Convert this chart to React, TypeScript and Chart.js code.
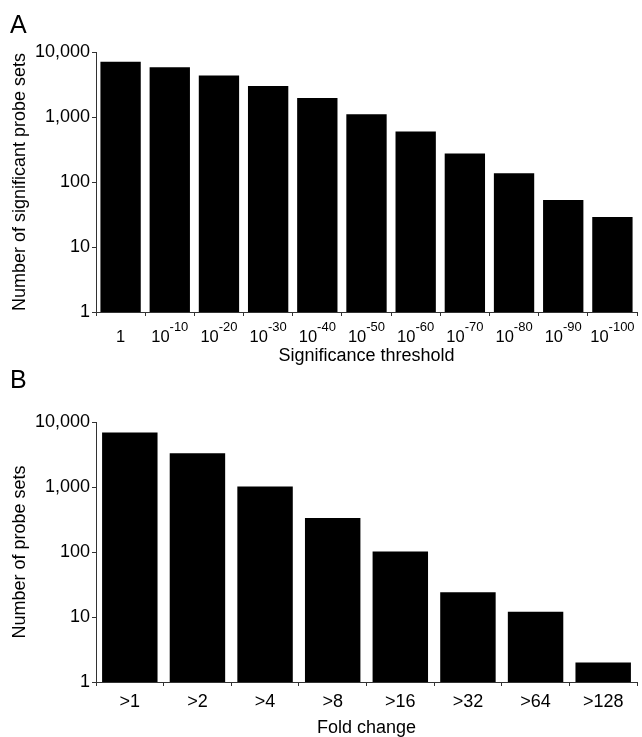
import React, { useEffect, useRef } from 'react';
import { Chart, registerables } from 'chart.js';

Chart.register(...registerables);

const FONT = '"Liberation Sans", Arial, Helvetica, sans-serif';
Chart.defaults.font.family = FONT;

// Panel A: significance threshold
const thresholdLabels = ['1', '10^-10', '10^-20', '10^-30', '10^-40', '10^-50', '10^-60', '10^-70', '10^-80', '10^-90', '10^-100'];
const thresholdCounts = [7080, 5850, 4350, 3010, 1960, 1107, 596, 275, 136, 53, 29];

// Panel B: fold change
const foldLabels = ['>1', '>2', '>4', '>8', '>16', '>32', '>64', '>128'];
const foldCounts = [6920, 3310, 1020, 334, 102, 24, 12, 2];

// Shared y axis ticks
const yTickValues = [1, 10, 100, 1000, 10000];

const panelPlugin = {
  id: 'panelDecor',
  afterDraw(chart: any, _args: any, opts: any) {
    const ctx = chart.ctx as CanvasRenderingContext2D;
    ctx.save();
    ctx.fillStyle = '#000';
    ctx.textBaseline = 'alphabetic';
    ctx.textAlign = 'left';
    if (opts.letter) {
      ctx.font = `25px ${FONT}`;
      ctx.fillText(opts.letter, 10, opts.letterY);
    }
    if (opts.superscript) {
      const xs = chart.scales.x;
      const baseY = xs.top + 29.7;
      (chart.data.labels as string[]).forEach((lab, i) => {
        const cx = xs.getPixelForValue(i);
        const [base, exp] = String(lab).split('^');
        ctx.font = `16.5px ${FONT}`;
        const w1 = ctx.measureText(base).width;
        let w2 = 0;
        if (exp) {
          ctx.font = `13px ${FONT}`;
          w2 = ctx.measureText(exp).width;
        }
        const x0 = cx - (w1 + w2) / 2;
        ctx.font = `16.5px ${FONT}`;
        ctx.fillText(base, x0, baseY);
        if (exp) {
          ctx.font = `13px ${FONT}`;
          ctx.fillText(exp, x0 + w1, baseY - 11);
        }
      });
    }
    ctx.restore();
  },
};

type PanelProps = {
  labels: string[];
  values: number[];
  letter: string;
  letterY: number;
  xTitle: string;
  yTitle: string;
  height: number;
  xAxisHeight: number;
  xTitlePad: number;
  superscript: boolean;
  top: number;
};

function BarPanel(p: PanelProps) {
  const ref = useRef<HTMLCanvasElement>(null);
  useEffect(() => {
    const chart = new Chart(ref.current as HTMLCanvasElement, {
      type: 'bar',
      data: {
        labels: p.labels,
        datasets: [
          {
            data: p.values,
            backgroundColor: '#000',
            borderWidth: 0,
            barPercentage: 0.82,
            categoryPercentage: 1,
          },
        ],
      },
      options: {
        responsive: false,
        animation: false,
        devicePixelRatio: 1,
        layout: { padding: { top: 52, right: 5, left: 0, bottom: 0 } },
        plugins: {
          legend: { display: false },
          tooltip: { enabled: false },
          panelDecor: { letter: p.letter, letterY: p.letterY, superscript: p.superscript },
        } as any,
        scales: {
          x: {
            type: 'category',
            offset: true,
            grid: { offset: true, drawOnChartArea: false, drawTicks: true, tickLength: 4, color: '#333', lineWidth: 1 },
            border: { display: true, color: '#333', width: 1 },
            ticks: {
              display: !p.superscript,
              font: { size: 18, family: FONT },
              color: '#000',
              padding: 5,
              maxRotation: 0,
              autoSkip: false,
            },
            title: {
              display: true,
              text: p.xTitle,
              font: { size: 18, family: FONT },
              color: '#000',
              padding: { top: 0, bottom: p.xTitlePad },
            },
            afterFit: (s: any) => {
              s.height = p.xAxisHeight;
            },
          },
          y: {
            type: 'logarithmic',
            min: 1,
            max: 10000,
            afterBuildTicks: (s: any) => {
              s.ticks = yTickValues.map((v) => ({ value: v }));
            },
            ticks: {
              callback: (v: any) => Number(v).toLocaleString('en-US'),
              font: { size: 18, family: FONT },
              color: '#000',
              padding: 2,
            },
            grid: { drawOnChartArea: false, drawTicks: true, tickLength: 4, color: '#333', lineWidth: 1 },
            border: { display: true, color: '#333', width: 1 },
            title: {
              display: true,
              text: p.yTitle,
              font: { size: 18, family: FONT },
              color: '#000',
              padding: { top: 9, bottom: 0 },
            },
            afterFit: (s: any) => {
              s.width = 96;
            },
          },
        },
      } as any,
      plugins: [panelPlugin as any],
    });
    return () => chart.destroy();
  }, []);
  return (
    <canvas
      ref={ref}
      width={642}
      height={p.height}
      style={{ position: 'absolute', left: 0, top: p.top, width: 642, height: p.height, display: 'block' }}
    />
  );
}

export default function App() {
  return (
    <div style={{ position: 'absolute', left: 0, top: 0, width: 642, height: 737, background: '#fff', overflow: 'hidden' }}>
      <BarPanel
        labels={thresholdLabels}
        values={thresholdCounts}
        letter="A"
        letterY={33}
        xTitle="Significance threshold"
        yTitle="Number of significant probe sets"
        height={370}
        xAxisHeight={58}
        xTitlePad={3}
        superscript={true}
        top={0}
      />
      <BarPanel
        labels={foldLabels}
        values={foldCounts}
        letter="B"
        letterY={18}
        xTitle="Fold change"
        yTitle="Number of probe sets"
        height={367}
        xAxisHeight={55}
        xTitlePad={-2}
        superscript={false}
        top={370}
      />
    </div>
  );
}
